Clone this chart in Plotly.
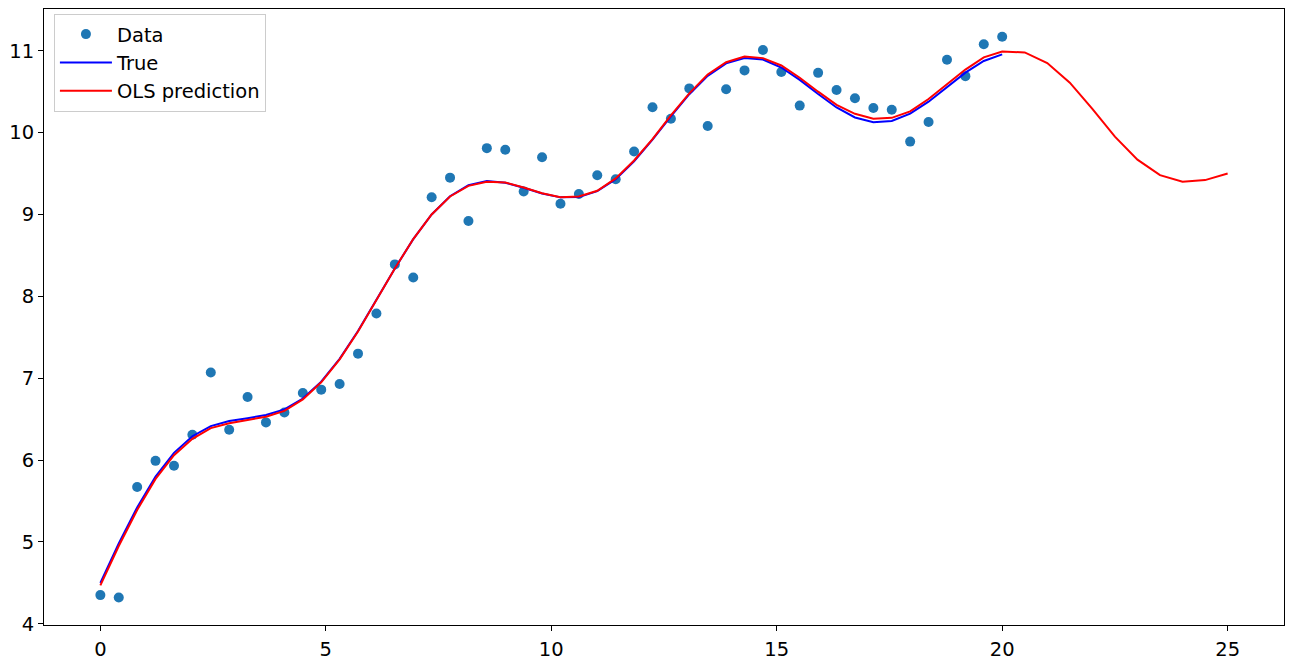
import plotly.graph_objects as go

# Sample positions (50 points from 0 to 20)
x_data = [0.000, 0.408, 0.816, 1.224, 1.633, 2.041, 2.449, 2.857, 3.265, 3.673,
          4.082, 4.490, 4.898, 5.306, 5.714, 6.122, 6.531, 6.939, 7.347, 7.755,
          8.163, 8.571, 8.980, 9.388, 9.796, 10.204, 10.612, 11.020, 11.429, 11.837,
          12.245, 12.653, 13.061, 13.469, 13.878, 14.286, 14.694, 15.102, 15.510, 15.918,
          16.327, 16.735, 17.143, 17.551, 17.959, 18.367, 18.776, 19.184, 19.592, 20.000]

y_data = [4.35, 4.32, 5.67, 5.99, 5.93, 6.31, 7.07, 6.37, 6.77, 6.46,
          6.58, 6.82, 6.86, 6.93, 7.30, 7.79, 8.39, 8.23, 9.21, 9.45,
          8.92, 9.81, 9.79, 9.28, 9.70, 9.13, 9.25, 9.48, 9.43, 9.77,
          10.31, 10.17, 10.54, 10.08, 10.53, 10.76, 11.01, 10.74, 10.33, 10.73,
          10.52, 10.42, 10.30, 10.28, 9.89, 10.13, 10.89, 10.69, 11.08, 11.17]

y_true = [4.500, 4.980, 5.422, 5.797, 6.088, 6.291, 6.414, 6.477, 6.512, 6.550,
          6.619, 6.752, 6.958, 7.236, 7.576, 7.956, 8.341, 8.698, 9.000, 9.223,
          9.358, 9.408, 9.388, 9.327, 9.257, 9.209, 9.212, 9.285, 9.432, 9.650,
          9.914, 10.199, 10.469, 10.693, 10.846, 10.912, 10.892, 10.795, 10.644, 10.471,
          10.307, 10.185, 10.127, 10.143, 10.232, 10.378, 10.555, 10.732, 10.875, 10.956]

x_pred = x_data + [20.5, 21.0, 21.5, 22.0, 22.5, 23.0, 23.5, 24.0, 24.5, 25.0]
y_pred = [4.47, 4.95, 5.39, 5.77, 6.06, 6.26, 6.39, 6.45, 6.49, 6.53,
          6.60, 6.74, 6.95, 7.23, 7.57, 7.95, 8.34, 8.70, 9.00, 9.22,
          9.35, 9.40, 9.39, 9.33, 9.26, 9.21, 9.22, 9.29, 9.44, 9.66,
          9.92, 10.21, 10.48, 10.71, 10.86, 10.93, 10.91, 10.82, 10.67, 10.50,
          10.34, 10.23, 10.17, 10.18, 10.26, 10.41, 10.59, 10.77, 10.92, 10.99,
          10.98, 10.85, 10.61, 10.29, 9.95, 9.67, 9.48, 9.40, 9.42, 9.50]

x_ticks = [0, 5, 10, 15, 20, 25]
y_ticks = [4, 5, 6, 7, 8, 9, 10, 11]

fig = go.Figure()
fig.add_trace(go.Scatter(x=x_data, y=y_data, mode="markers", name="Data",
                         marker=dict(color="#1f77b4", size=10)))
fig.add_trace(go.Scatter(x=x_data, y=y_true, mode="lines", name="True",
                         line=dict(color="blue", width=2)))
fig.add_trace(go.Scatter(x=x_pred, y=y_pred, mode="lines", name="OLS prediction",
                         line=dict(color="red", width=2)))

axis_common = dict(showgrid=False, zeroline=False, showline=True, linecolor="black",
                   linewidth=1, mirror=True, ticks="outside", ticklen=5,
                   tickcolor="black", tickfont=dict(size=19.5, color="black"),
                   automargin=False)

fig.update_layout(
    width=1294, height=664,
    margin=dict(l=44, r=10, t=9, b=39),
    plot_bgcolor="white", paper_bgcolor="white",
    font=dict(family="DejaVu Sans", size=19.5, color="black"),
    xaxis=dict(range=[-1.25, 26.25], tickvals=x_ticks, ticklabelstandoff=2, **axis_common),
    yaxis=dict(range=[3.985, 11.51], tickvals=y_ticks, **axis_common),
    legend=dict(x=0.008, y=0.992, xanchor="left", yanchor="top",
                bgcolor="rgba(255,255,255,0.8)", bordercolor="#cccccc", borderwidth=1,
                font=dict(size=19.5), tracegroupgap=0, itemwidth=52),
    showlegend=True,
)

fig.write_html("out.html", config={"displayModeBar": False},
               post_script="document.body.style.margin='0';document.body.style.overflow='hidden';")
